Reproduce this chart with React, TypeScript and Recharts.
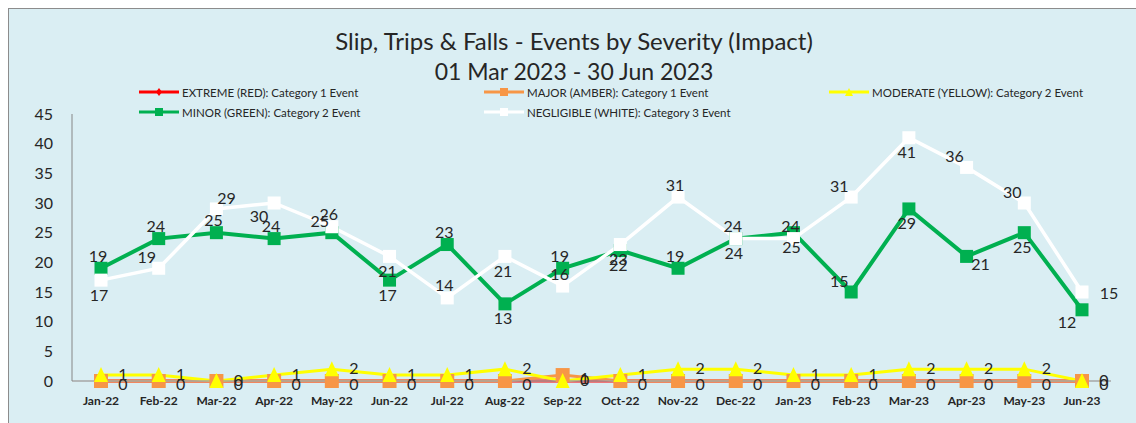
import { LineChart, Line, XAxis, YAxis } from 'recharts';

const MONTHS = ['Jan-22', 'Feb-22', 'Mar-22', 'Apr-22', 'May-22', 'Jun-22', 'Jul-22', 'Aug-22', 'Sep-22', 'Oct-22', 'Nov-22', 'Dec-22', 'Jan-23', 'Feb-23', 'Mar-23', 'Apr-23', 'May-23', 'Jun-23'];
const EXTREME = [0, 0, 0, 0, 0, 0, 0, 0, 0, 0, 0, 0, 0, 0, 0, 0, 0, 0];
const MAJOR = [0, 0, 0, 0, 0, 0, 0, 0, 1, 0, 0, 0, 0, 0, 0, 0, 0, 0];
const MODERATE = [1, 1, 0, 1, 2, 1, 1, 2, 0, 1, 2, 2, 1, 1, 2, 2, 2, 0];
const MINOR = [19, 24, 25, 24, 25, 17, 23, 13, 19, 22, 19, 24, 25, 15, 29, 21, 25, 12];
const NEGLIGIBLE = [17, 19, 29, 30, 26, 21, 14, 21, 16, 23, 31, 24, 24, 31, 41, 36, 30, 15];
const Y_TICKS = [0, 5, 10, 15, 20, 25, 30, 35, 40, 45];

// where each data label sits relative to its point (Excel labels were moved by hand)
const MINOR_LABEL_POS = ['top', 'top', 'top', 'top', 'topLeft', 'bottom', 'top', 'bottom', 'top', 'bottom', 'top', 'top', 'bottom', 'topLeft', 'bottom', 'bottomRight', 'bottom', 'bottomLeft'];
const NEGLIGIBLE_LABEL_POS = ['bottom', 'topLeft', 'topRight', 'bottomLeft', 'top', 'bottom', 'top', 'bottom', 'top', 'bottom', 'top', 'bottom', 'top', 'topLeft', 'bottom', 'topLeft', 'topLeft', 'right'];

const data = MONTHS.map((month, i) => ({
  month,
  extreme: EXTREME[i],
  major: MAJOR[i],
  moderate: MODERATE[i],
  minor: MINOR[i],
  negligible: NEGLIGIBLE[i],
}));

const FONT = 'Lato, "Open Sans", sans-serif';
const TEXT = '#262626';
const BG = '#DAEEF3';

const OFFSETS: Record<string, [number, number]> = {
  top: [-3, -13],
  bottom: [-2, 14],
  topLeft: [-12, -12],
  topRight: [10, -11],
  bottomLeft: [-15, 12],
  bottomRight: [14, 7],
  right: [27, 0],
};

const placedLabel = (positions: string[]) => (props: any) => {
  const { x, y, value, index } = props;
  if (x == null || y == null) return null;
  const [dx, dy] = OFFSETS[positions[index]] || OFFSETS.top;
  return (
    <text key={`l${index}`} x={x + dx} y={y + dy} textAnchor="middle" dominantBaseline="central" fontSize={16} fill={TEXT} fontFamily={FONT}>
      {value}
    </text>
  );
};

const rightLabel = (dy: number) => (props: any) => {
  const { x, y, value, index } = props;
  if (x == null || y == null) return null;
  return (
    <text key={`r${index}`} x={x + 22} y={y + dy} textAnchor="middle" dominantBaseline="central" fontSize={16} fill={TEXT} fontFamily={FONT}>
      {value}
    </text>
  );
};

const square = (size: number, fill: string) => (p: any) => (
  <rect key={`s${p.index}`} x={p.cx - size / 2} y={p.cy - size / 2} width={size} height={size} fill={fill} />
);

const triangle = (size: number, fill: string) => (p: any) => (
  <path key={`t${p.index}`} d={`M${p.cx},${p.cy - size / 2 - 1}L${p.cx + size / 2},${p.cy + size / 2}L${p.cx - size / 2},${p.cy + size / 2}Z`} fill={fill} />
);

const diamond = (size: number, fill: string) => (p: any) => (
  <path key={`d${p.index}`} d={`M${p.cx},${p.cy - size / 2}L${p.cx + size / 2},${p.cy}L${p.cx},${p.cy + size / 2}L${p.cx - size / 2},${p.cy}Z`} fill={fill} />
);

const LEGEND = [
  { name: 'EXTREME (RED): Category 1 Event', color: '#FF0000', marker: 'diamond', left: 130, top: 83 },
  { name: 'MAJOR (AMBER): Category 1 Event', color: '#F79646', marker: 'square', left: 475, top: 83 },
  { name: 'MODERATE (YELLOW): Category 2 Event', color: '#FFFF00', marker: 'triangle', left: 820, top: 83 },
  { name: 'MINOR (GREEN): Category 2 Event', color: '#00B050', marker: 'square', left: 130, top: 103 },
  { name: 'NEGLIGIBLE (WHITE): Category 3 Event', color: '#FFFFFF', marker: 'square', left: 475, top: 103 },
];

function LegendIcon({ color, marker }: { color: string; marker: string }) {
  return (
    <svg width={40} height={10} style={{ display: 'block' }}>
      <line x1={0} y1={5} x2={40} y2={5} stroke={color} strokeWidth={3} />
      {marker === 'square' && <rect x={16} y={1} width={8} height={8} fill={color} />}
      {marker === 'triangle' && <path d="M20,1L24,9L16,9Z" fill={color} />}
      {marker === 'diamond' && <path d="M20,1L23,5L20,9L17,5Z" fill={color} />}
    </svg>
  );
}

export default function App() {
  return (
    <div
      style={{
        position: 'absolute',
        left: 8,
        top: 8,
        width: 1128,
        height: 415,
        boxSizing: 'border-box',
        background: BG,
        borderTop: '1px solid #8c8c8c',
        borderLeft: '1px solid #8c8c8c',
        fontFamily: FONT,
        color: TEXT,
        overflow: 'hidden',
      }}
    >
      <div style={{ position: 'absolute', left: 0, width: 1130, top: 17, textAlign: 'center', lineHeight: '30px' }}>
        <div style={{ fontSize: 24 }}>Slip, Trips &amp; Falls - Events by Severity (Impact)</div>
        <div style={{ fontSize: 23 }}>01 Mar 2023 - 30 Jun 2023</div>
      </div>
      {LEGEND.map((item) => (
        <div
          key={item.name}
          style={{ position: 'absolute', left: item.left, top: item.top - 7, height: 14, display: 'flex', alignItems: 'center', gap: 3, fontSize: 11.5, whiteSpace: 'nowrap' }}
        >
          <LegendIcon color={item.color} marker={item.marker} />
          <span>{item.name}</span>
        </div>
      ))}
      <div style={{ position: 'absolute', left: 0, top: 0 }}>
        <LineChart width={1127} height={414} data={data} margin={{ top: 105, right: 25, bottom: 12, left: 0 }}>
          <XAxis
            dataKey="month"
            interval={0}
            padding={{ left: 29, right: 29 }}
            tickLine={false}
            tickSize={6}
            tickMargin={9}
            height={30}
            axisLine={{ stroke: '#A6A6A6', strokeWidth: 1.5 }}
            tick={{ fontSize: 12, fontWeight: 'bold', fill: TEXT, fontFamily: FONT }}
          />
          <YAxis
            domain={[0, 45]}
            ticks={Y_TICKS}
            width={63}
            tickLine={false}
            tickSize={6}
            tickMargin={13}
            axisLine={{ stroke: '#868686' }}
            tick={{ fontSize: 16, fill: TEXT, fontFamily: FONT }}
          />
          <Line dataKey="extreme" stroke="#FF0000" strokeWidth={3} dot={diamond(8, '#FF0000')} isAnimationActive={false} />
          <Line dataKey="major" stroke="#F79646" strokeWidth={3} dot={square(14, '#F79646')} label={rightLabel(2)} isAnimationActive={false} />
          <Line dataKey="moderate" stroke="#FFFF00" strokeWidth={3} dot={triangle(14, '#FFFF00')} label={rightLabel(-2)} isAnimationActive={false} />
          <Line dataKey="minor" stroke="#00B050" strokeWidth={4} dot={square(13, '#00B050')} label={placedLabel(MINOR_LABEL_POS)} isAnimationActive={false} />
          <Line dataKey="negligible" stroke="#FFFFFF" strokeWidth={3.5} dot={square(13, '#FFFFFF')} label={placedLabel(NEGLIGIBLE_LABEL_POS)} isAnimationActive={false} />
        </LineChart>
      </div>
    </div>
  );
}
